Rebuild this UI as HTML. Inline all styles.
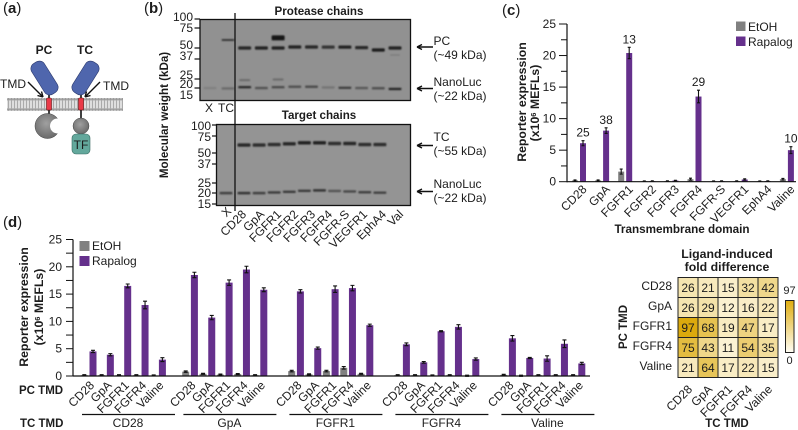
<!DOCTYPE html>
<html lang="en">
<head>
<meta charset="utf-8">
<title>Reporter expression figure</title>
<style>
html,body{margin:0;padding:0;background:#fff}
#fig{display:block;width:798px;height:430px;font-family:"Liberation Sans",sans-serif;fill:#1c1c1c}
#fig text{font-family:"Liberation Sans",sans-serif}
.b{font-weight:bold}
</style>
</head>
<body>
<svg id="fig" xmlns="http://www.w3.org/2000/svg" width="798" height="430" viewBox="0 0 798 430">
<defs>
<filter id="bl" x="-30%" y="-150%" width="160%" height="400%"><feGaussianBlur stdDeviation="0.9"/></filter>
<radialGradient id="sphere" cx="45%" cy="40%" r="65%"><stop offset="0" stop-color="#a0a0a0"/><stop offset="1" stop-color="#666"/></radialGradient>
<linearGradient id="cbar" x1="0" y1="0" x2="0" y2="1"><stop offset="0" stop-color="#dfad10"/><stop offset="1" stop-color="#fffdf4"/></linearGradient>
<pattern id="lipid" x="7" y="98" width="3" height="13" patternUnits="userSpaceOnUse">
<rect width="3" height="13" fill="#e4e4e4"/><circle cx="1.5" cy="1.4" r="1.4" fill="#999"/><circle cx="1.5" cy="11.4" r="1.4" fill="#999"/><rect x="0.9" y="2" width="1.2" height="9" fill="#aaa"/>
</pattern>
</defs>

<text x="3" y="13" font-size="15">(<tspan class="b">a</tspan>)</text>
<text x="144" y="13" font-size="15">(<tspan class="b">b</tspan>)</text>
<text x="502" y="15" font-size="15">(<tspan class="b">c</tspan>)</text>
<text x="3" y="227" font-size="15">(<tspan class="b">d</tspan>)</text>

<g>
<rect x="7" y="98" width="116" height="13" fill="url(#lipid)"/>
<line x1="49" y1="92" x2="49" y2="118" stroke="#111" stroke-width="1.6"/>
<line x1="81" y1="92" x2="81" y2="120" stroke="#111" stroke-width="1.6"/>
<rect x="37" y="60" width="15" height="36" rx="6" transform="rotate(-32 44.500 78)" fill="#4f66ad" stroke="#2c3a6e" stroke-width=".6"/>
<rect x="78" y="60" width="15" height="36" rx="6" transform="rotate(32 85.500 78)" fill="#4f66ad" stroke="#2c3a6e" stroke-width=".6"/>
<rect x="46.500" y="98" width="5" height="12" rx="1" fill="#ea3a48" stroke="#611" stroke-width=".6"/>
<rect x="78.500" y="98" width="5" height="12" rx="1" fill="#ea3a48" stroke="#611" stroke-width=".6"/>
<circle cx="47.500" cy="126" r="12.500" fill="url(#sphere)" stroke="#444" stroke-width=".5"/>
<circle cx="57.500" cy="126" r="7.500" fill="#fff"/>
<circle cx="81" cy="126" r="8" fill="url(#sphere)" stroke="#444" stroke-width=".5"/>
<rect x="72" y="134" width="18" height="20" rx="4" fill="#63a89c" stroke="#3a6b62" stroke-width=".6"/>
<text x="81" y="149" font-size="12" text-anchor="middle">TF</text>
<text class="b" x="44" y="54" font-size="12" text-anchor="middle">PC</text>
<text class="b" x="85" y="54" font-size="12" text-anchor="middle">TC</text>
<text x="0" y="88" font-size="12">TMD</text>
<text x="103" y="90" font-size="12">TMD</text>
<path d="M28 82L43 97M43 97l-5.500-1.500M43 97l-1.500-5.500" stroke="#111" stroke-width="1.400" fill="none"/>
<path d="M100 82L85 97M85 97l5.500-1.500M85 97l1.500-5.500" stroke="#111" stroke-width="1.400" fill="none"/>
</g>

<g>
<text class="b" x="319" y="15" font-size="11.600" text-anchor="middle">Protease chains</text>
<text class="b" x="319" y="119" font-size="11.600" text-anchor="middle">Target chains</text>
<text class="b" x="0" y="0" font-size="11.600" text-anchor="middle" transform="translate(168 115) rotate(-90)">Molecular weight (kDa)</text>
<rect x="200" y="19.500" width="210.500" height="81" fill="#919191"/>
<rect x="216.500" y="124.500" width="194" height="81" fill="#949494"/>
<g id="bands"></g>
<rect x="200" y="19.500" width="210.500" height="81" fill="none" stroke="#111" stroke-width="1.300"/>
<rect x="216.500" y="124.500" width="194" height="81" fill="none" stroke="#111" stroke-width="1.300"/>
<line x1="235" y1="13" x2="235" y2="211" stroke="#111" stroke-width="1.300"/>
<text x="209" y="112" font-size="12" text-anchor="middle">X</text>
<text x="226" y="112" font-size="12" text-anchor="middle">TC</text>
<g font-size="12">
<path d="M433 47H417M417 47l5-2.500M417 47l5 2.500" stroke="#111" stroke-width="1.400" fill="none"/>
<text x="433.500" y="45">PC</text>
<text x="433.500" y="59">(~49 kDa)</text>
<path d="M433 88.500H417M417 88.500l5-2.500M417 88.500l5 2.500" stroke="#111" stroke-width="1.400" fill="none"/>
<text x="433.500" y="86">NanoLuc</text>
<text x="433.500" y="100">(~22 kDa)</text>
<path d="M433 145.500H417M417 145.500l5-2.500M417 145.500l5 2.500" stroke="#111" stroke-width="1.400" fill="none"/>
<text x="433.500" y="141">TC</text>
<text x="433.500" y="155">(~55 kDa)</text>
<path d="M433 191.500H417M417 191.500l5-2.500M417 191.500l5 2.500" stroke="#111" stroke-width="1.400" fill="none"/>
<text x="433.500" y="188">NanoLuc</text>
<text x="433.500" y="202">(~22 kDa)</text>
</g>
</g>

<g>
<g id="cMarks"></g>
<text class="b" font-size="12.300" text-anchor="middle" transform="translate(526 102) rotate(-90)">Reporter expression</text>
<text class="b" font-size="12.300" text-anchor="middle" transform="translate(539 103) rotate(-90)">(x10<tspan font-size="7.500" dy="-3">6</tspan><tspan dy="3"> MEFLs)</tspan></text>
<text class="b" x="682" y="233" font-size="11.700" text-anchor="middle">Transmembrane domain</text>
<rect x="736" y="21.500" width="9.500" height="9.500" fill="#808080"/>
<text x="748" y="31" font-size="12">EtOH</text>
<rect x="736" y="36.500" width="9.500" height="9.500" fill="#65308c"/>
<text x="748" y="46" font-size="12">Rapalog</text>
</g>

<g>
<g id="dMarks"></g>
<text class="b" font-size="12.300" text-anchor="middle" transform="translate(28 307) rotate(-90)">Reporter expression</text>
<text class="b" font-size="12.300" text-anchor="middle" transform="translate(43 307) rotate(-90)">(x10<tspan font-size="7.500" dy="-3">6</tspan><tspan dy="3"> MEFLs)</tspan></text>
<rect x="79.500" y="241" width="10" height="10" fill="#808080"/>
<text x="92" y="250" font-size="12">EtOH</text>
<rect x="79.500" y="256" width="10" height="10" fill="#65308c"/>
<text x="92" y="265" font-size="12">Rapalog</text>
<text class="b" x="19" y="394" font-size="11.500">PC TMD</text>
<text class="b" x="20" y="427" font-size="11.500">TC TMD</text>
</g>

<g>
<text class="b" x="727" y="258" font-size="12.300" text-anchor="middle">Ligand-induced</text>
<text class="b" x="727" y="271" font-size="12.300" text-anchor="middle">fold difference</text>
<g id="heat"></g>
<text class="b" font-size="11.500" text-anchor="middle" transform="translate(627 327) rotate(-90)">PC TMD</text>
<text class="b" x="727" y="427" font-size="11.500" text-anchor="middle">TC TMD</text>
<rect x="785.500" y="300.500" width="8.500" height="52" fill="url(#cbar)" stroke="#222" stroke-width="1"/>
<text x="789.500" y="294" font-size="11" text-anchor="middle">97</text>
<text x="789.500" y="364" font-size="11" text-anchor="middle">0</text>
</g>
</svg>

<script>
/* Panel b: band sizes (kDa) and strengths per lane */
const blotLanes = ['X','TC','CD28','GpA','FGFR1','FGFR2','FGFR3','FGFR4','FGFR-S','VEGFR1','EphA4','Val'];
const blotMW = [100,75,50,37,25,20,15];
const proteaseKDa = [null,60,50,50,50,51.2,51.2,51,51,50.4,47.8,50];
const proteaseStrength = [0,.7,.85,.9,.9,.9,.85,.75,.9,.85,.95,.9];
const fgfr1UpperKDa = [63];
const protNanoKDa = [20,19.8,20.4,20,20.4,20.6,20.6,20.3,20.1,20,19.9,19.6];
const protNanoStrength = [.12,.3,.8,.5,.55,.5,.55,.22,.65,.45,.5,.85];
const faintKDa = [null,null,24,null,24.3,null,null,null,null,null,null,null];
const targetKDa = [null,60.3,60.3,61,62,63.5,63.5,62.5,62.5,61,61];
const targetStrength = [0,.85,.8,.8,.85,.9,.9,.8,.85,.8,.8];
const targetNanoKDa = [19.5,19.5,19.5,19.8,20.1,20.6,20.8,20.5,20.3,19.9,19.7];
const targetNanoStrength = [.65,.75,.65,.7,.7,.7,.75,.5,.6,.65,.65];
const targetLanes = ['X','CD28','GpA','FGFR1','FGFR2','FGFR3','FGFR4','FGFR-S','VEGFR1','EphA4','Val'];

/* Panel c */
const cCategories = ['CD28','GpA','FGFR1','FGFR2','FGFR3','FGFR4','FGFR-S','VEGFR1','EphA4','Valine'];
const cEtoh = [.2,.2,1.6,.08,.1,.4,.08,.1,.08,.4];
const cEtohErr = [.08,.08,.4,.04,.04,.15,.04,.04,.04,.12];
const cRapalog = [6.1,8.1,20.4,.1,.18,13.5,.1,.35,.1,5];
const cRapalogErr = [.4,.45,.9,.04,.05,1,.04,.1,.04,.55];
const cFold = ['25','38','13','','','29','','','','10'];
const cTicks = [0,5,10,15,20,25];

/* Panel d */
const dPcTmd = ['CD28','GpA','FGFR1','FGFR4','Valine'];
const dTcTmd = ['CD28','GpA','FGFR1','FGFR4','Valine'];
const dEtoh = [[.15,.15,.15,.15,.1],[.8,.4,.25,.35,.15],[.9,.3,.9,1.5,.4],[.15,.15,.1,.15,.05],[.2,.05,.15,.15,.15]];
const dRapalog = [[4.5,3.9,16.5,13,3],[18.5,10.7,17.1,19.5,15.8],[15.5,5.1,15.9,16.1,9.3],[5.8,2.5,8.2,9,3.1],[6.9,3.3,3.2,5.9,2.3]];
const dRapalogErr = [[.2,.2,.35,.7,.35],[.5,.4,.5,.6,.35],[.3,.2,.6,.5,.2],[.25,.15,.1,.4,.2],[.5,.1,.5,.7,.2]];
const dTicks = [0,5,10,15,20,25];

/* Heatmap */
const heatRows = ['CD28','GpA','FGFR1','FGFR4','Valine'];
const heatCols = ['CD28','GpA','FGFR1','FGFR4','Valine'];
const heatValues = [[26,21,15,32,42],[26,29,12,16,22],[97,68,19,47,17],[75,43,11,54,35],[21,64,17,22,15]];

const NS = 'http://www.w3.org/2000/svg';
function make(tag, parent, props){
  const n = document.createElementNS(NS, tag);
  for (const k in props) n.setAttribute(k, props[k]);
  parent.appendChild(n);
  return n;
}
function write(n, s){ n.textContent = s; return n; }
const PURPLE = '#65308c', GREY = '#808080', INK = '#111', LABEL = '#1c1c1c';

/* ---------- blots ---------- */
const bandsG = document.getElementById('bands');
const protY = k => 48 + Math.log(50 / k) * 43.7;
const protX = i => i === 0 ? 210 : 228 + (i - 1) * 16.7;
const targY = k => 153 + Math.log(50 / k) * 42.6;
const targX = i => i === 0 ? 226 : 244 + (i - 1) * 15.1;
function band(x, y, w, h, op){
  const b = make('rect', bandsG, {x: x - w / 2, y: y - h / 2, width: w, height: h, rx: 1, fill: '#151515', opacity: op, filter: 'url(#bl)'});
  
  
}
blotLanes.forEach((_, i) => {
  if (proteaseKDa[i]) band(protX(i), protY(proteaseKDa[i]), 13, i === 1 ? 2 : 3.2, proteaseStrength[i]);
  band(protX(i), protY(protNanoKDa[i]), 13, 2.4, protNanoStrength[i]);
  if (faintKDa[i]) band(protX(i), protY(faintKDa[i]), 11, 2, .3);
});
band(protX(4), protY(fgfr1UpperKDa[0]), 13, 5, 1);
band(protX(11), 55, 10, 1.5, .15);
targetLanes.forEach((_, i) => {
  if (targetKDa[i]) band(targX(i), targY(targetKDa[i]), 13, 3.4, targetStrength[i]);
  band(targX(i), targY(targetNanoKDa[i]), 13, 2.4, targetNanoStrength[i]);
});
const protTickY = [19, 28, 48, 59, 79, 88];
blotMW.forEach((m, i) => {
  const y1 = [17, 28, 45, 56, 75, 84, 95][i];
  const t = make('text', bandsG, {x: 193, y: y1 + 4, 'font-size': 12, 'text-anchor': 'end', fill: LABEL});
  write(t, m);
  
  
  const y2 = [126, 137, 153, 164, 183, 193, 204][i];
  const u = make('text', bandsG, {x: 211, y: y2 + 4, 'font-size': 12, 'text-anchor': 'end', fill: LABEL});
  write(u, m);
  
  
  if (i < 6) {
    const k = make('line', bandsG, {x1: 194.5, x2: 200, y1: protTickY[i], y2: protTickY[i], stroke: INK, 'stroke-width': 1.2});
    
    
  }
  const z = make('line', bandsG, {x1: 212, x2: 216.5, y1: y2 - (i < 2 ? 1 : 0), y2: y2 - (i < 2 ? 1 : 0), stroke: INK, 'stroke-width': 1.2});
  
  
});
targetLanes.forEach((name, i) => {
  const ex = [232, 247, 265, 282, 299, 316, 333, 350, 368, 387, 404][i];
  const ey = i === 0 ? 212 : 215;
  const t = make('text', bandsG, {'font-size': 12, 'text-anchor': 'end', fill: LABEL, transform: 'translate(' + ex + ' ' + ey + ') rotate(-45)'});
  write(t, name);
  
  
});

/* ---------- panel c ---------- */
const cG = document.getElementById('cMarks');
const cY = v => 181.7 - v * (157.7 / 25);
const cX = i => 583 + i * 23.1;
function errBar(parent, x, yTop, yBot, cap, name){
  const e = make('path', parent, {d: 'M' + (x - cap) + ' ' + yTop + 'H' + (x + cap) + 'M' + x + ' ' + yTop + 'V' + yBot + 'M' + (x - cap) + ' ' + yBot + 'H' + (x + cap), stroke: INK, 'stroke-width': 1.1, fill: 'none'});
  
  
}
cCategories.forEach((c, i) => {
  const x = cX(i);
  const a = make('rect', cG, {x: x - 11, y: cY(cEtoh[i]), width: 6, height: cY(0) - cY(cEtoh[i]), fill: GREY});
  
  
  errBar(cG, x - 8, cY(cEtoh[i] + cEtohErr[i]), cY(cEtoh[i] - cEtohErr[i]), 1.5, 'c-error-etoh');
  const r = make('rect', cG, {x: x - 3, y: cY(cRapalog[i]), width: 6, height: cY(0) - cY(cRapalog[i]), fill: PURPLE});
  
  
  errBar(cG, x, cY(cRapalog[i] + cRapalogErr[i]), cY(cRapalog[i] - cRapalogErr[i]), 1.5, 'c-error-rapalog');
  if (cFold[i]) {
    const f = make('text', cG, {x: x, y: cY(cRapalog[i] + cRapalogErr[i]) - 4, 'font-size': 12, 'text-anchor': 'middle', fill: LABEL});
    write(f, cFold[i]);
    
    
  }
  const l = make('text', cG, {'font-size': 12, 'text-anchor': 'end', fill: LABEL, transform: 'translate(' + (x + 4.5) + ' 190) rotate(-45)'});
  write(l, c);
  
  
});
const cAxisY = make('line', cG, {x1: 567, x2: 567, y1: cY(25), y2: cY(0) + .5, stroke: INK, 'stroke-width': 1.2});


const cAxisX = make('line', cG, {x1: 567, x2: 796, y1: cY(0), y2: cY(0), stroke: INK, 'stroke-width': 1.2});


cTicks.forEach(v => {
  const t = make('line', cG, {x1: 559, x2: 567, y1: cY(v), y2: cY(v), stroke: INK, 'stroke-width': 1});
  
  
  if (v < 25) {
    const m = make('line', cG, {x1: 561, x2: 567, y1: cY(v + 2.5), y2: cY(v + 2.5), stroke: INK, 'stroke-width': 1});
    
    
  }
  const l = make('text', cG, {x: 556, y: cY(v) + 4, 'font-size': 12, 'text-anchor': 'end', fill: LABEL});
  write(l, v);
  
  
});

/* ---------- panel d ---------- */
const dG = document.getElementById('dMarks');
const dY = v => 376 - v * 5.46;
const dGroupX = g => g === 0 ? 93 : 194.4 + (g - 1) * 106;
const dX = (g, i) => dGroupX(g) + i * 17.35;
dTcTmd.forEach((tc, g) => {
  dPcTmd.forEach((pc, i) => {
    const x = dX(g, i);
    const a = make('rect', dG, {x: x - 12.2, y: dY(dEtoh[g][i]), width: 7, height: dY(0) - dY(dEtoh[g][i]), fill: GREY});
    
    
    const ee = Math.max(.1, dEtoh[g][i] * .15);
    errBar(dG, x - 8.7, dY(dEtoh[g][i] + ee), dY(dEtoh[g][i] - ee), 2, 'd-error-etoh');
    const r = make('rect', dG, {x: x - 3.5, y: dY(dRapalog[g][i]), width: 7, height: dY(0) - dY(dRapalog[g][i]), fill: PURPLE});
    
    
    errBar(dG, x, dY(dRapalog[g][i] + dRapalogErr[g][i]), dY(dRapalog[g][i] - dRapalogErr[g][i]), 2, 'd-error-rapalog');
    const l = make('text', dG, {'font-size': 12, 'text-anchor': 'end', fill: LABEL, transform: 'translate(' + (x + 2) + ' 386) rotate(-45)'});
    write(l, pc);
    
    
  });
  const x0 = dGroupX(g) - 11, x1 = dGroupX(g) + 82;
  const br = make('line', dG, {x1: x0, x2: x1, y1: 414.5, y2: 414.5, stroke: INK, 'stroke-width': 1.2});
  
  
  const tl = make('text', dG, {x: (x0 + x1) / 2 - .5, y: 427, 'font-size': 12, 'text-anchor': 'middle', fill: LABEL});
  write(tl, tc);
  
  
});
const dAxisY = make('line', dG, {x1: 73, x2: 73, y1: dY(25), y2: dY(0) + .5, stroke: INK, 'stroke-width': 1.2});


const dAxisX = make('line', dG, {x1: 73, x2: 590, y1: dY(0), y2: dY(0), stroke: INK, 'stroke-width': 1.2});


dTicks.forEach(v => {
  const t = make('line', dG, {x1: 66, x2: 73, y1: dY(v), y2: dY(v), stroke: INK, 'stroke-width': 1});
  
  
  if (v < 25) {
    const m = make('line', dG, {x1: 66, x2: 73, y1: dY(v + 2.5), y2: dY(v + 2.5), stroke: INK, 'stroke-width': 1});
    
    
  }
  const l = make('text', dG, {x: 62, y: dY(v) + 4, 'font-size': 12, 'text-anchor': 'end', fill: LABEL});
  write(l, v);
  
  
});

/* ---------- heatmap ---------- */
const hG = document.getElementById('heat');
const hX = c => 678 + c * 20;
const hY = r => 277.5 + r * 20;
function heatColor(v){
  const t = v / 97;
  const lo = [255, 251, 236], hi = [219, 169, 13];
  return 'rgb(' + lo.map((c, i) => Math.round(c + (hi[i] - c) * t)).join(',') + ')';
}
heatRows.forEach((rowName, r) => {
  const l = make('text', hG, {x: 672, y: hY(r) + 12.5, 'font-size': 12, 'text-anchor': 'end', fill: LABEL});
  write(l, rowName);
  
  
  heatCols.forEach((_, c) => {
    const v = heatValues[r][c];
    const cell = make('rect', hG, {x: hX(c), y: hY(r), width: 20, height: 20, fill: heatColor(v), stroke: '#222', 'stroke-width': 1});
    
    
    const t = make('text', hG, {x: hX(c) + 10, y: hY(r) + 14.5, 'font-size': 12, 'text-anchor': 'middle', fill: LABEL});
    write(t, v);
    
    
  });
});
heatCols.forEach((name, c) => {
  const l = make('text', hG, {'font-size': 12, 'text-anchor': 'end', fill: LABEL, transform: 'translate(' + (hX(c) + 15) + ' 390) rotate(-45)'});
  write(l, name);
  
  
});
</script>
</body>
</html>
